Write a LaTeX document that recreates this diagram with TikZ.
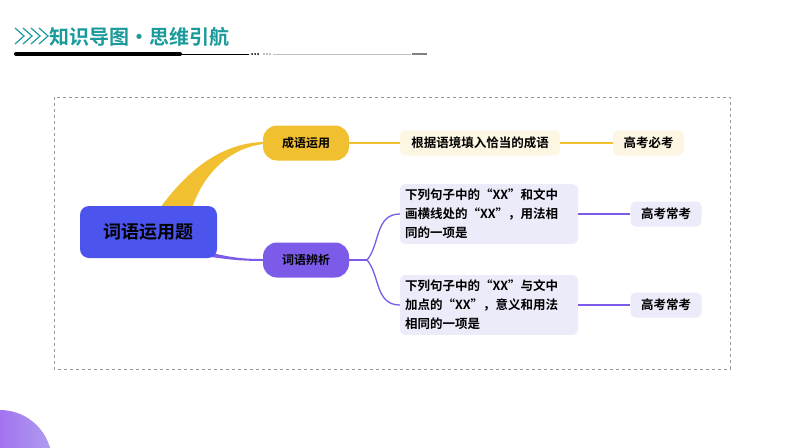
\documentclass[tikz,border=0pt]{standalone}
\usepackage{fontspec}
\setmainfont{Noto Sans CJK SC}[BoldFont={* Bold}]
\definecolor{teal1}{HTML}{1A9A9A}
\definecolor{yel}{HTML}{F0C030}
\definecolor{yelL}{HTML}{FDF6E3}
\definecolor{pur}{HTML}{7B5BE8}
\definecolor{purL}{HTML}{ECEBFA}
\definecolor{blu}{HTML}{4B55EE}
\tikzset{
 pill/.style={rounded corners=14pt,minimum width=86pt,minimum height=35pt,font=\bfseries\fontsize{12}{14}\selectfont},
 leaf/.style={rounded corners=5pt,inner sep=5pt,font=\bfseries\fontsize{12.5}{19}\selectfont,align=left},
 tag/.style={rounded corners=5pt,minimum width=71pt,minimum height=25pt,font=\bfseries\fontsize{12.5}{14}\selectfont},
}
\begin{document}
\begin{tikzpicture}[x=1pt,y=-1pt]
\useasboundingbox (0,0) rectangle (794,447);
\fill[white] (0,0) rectangle (794,447);
\begin{scope}
\clip (0,0) rectangle (794,447);
\shade[left color=pur!80!magenta,right color=pur!60!white] (0,462) circle (52);
\end{scope}
\foreach \i in {0,8,16,24}{
 \draw[teal1,line width=1.2pt] (15+\i,28) -- (24+\i,36) -- (15+\i,44);
}
\node[anchor=west,text=teal1,inner sep=0,font=\bfseries\fontsize{20}{22}\selectfont] (title) at (49,37) {知识导图·思维引航};
\draw[line width=4pt,line cap=round] (16,54) -- (180,54);
\draw[line width=0.8pt] (180,54) -- (249,54);
\fill (252,54) circle (1) (255,54) circle (1) (258,54) circle (1);
\fill[gray] (264,54) circle (0.8) (267,54) circle (0.8) (270,54) circle (0.8);
\draw[gray!50,line width=0.6pt] (273,54) -- (411,54);
\draw[gray,line width=2pt] (412,54) -- (427,54);
\draw[gray!80,dashed,line width=0.6pt] (54,97) rectangle (730,369);
\fill[yel] (160,208) .. controls (195,160) and (230,143) .. (263,142) -- (263,144) .. controls (232,148) and (205,170) .. (192,208) -- cycle;
\fill[pur] (200,250) .. controls (230,258) and (245,259) .. (263,259) -- (263,261) .. controls (245,261) and (230,260) .. (205,256) -- cycle;
\node[fill=blu,rounded corners=9pt,minimum width=137pt,minimum height=52pt,font=\bfseries\fontsize{18}{20}\selectfont] (root) at (148.5,232) {词语运用题};
\node[pill,fill=yel] (a) at (306,143) {成语运用};
\node[pill,fill=pur] (b) at (306,260) {词语辨析};
\node[leaf,fill=yelL,minimum height=25pt,minimum width=160pt,align=center] (a1) at (480,143) {根据语境填入恰当的成语};
\node[tag,fill=yelL] (a2) at (648.5,143) {高考必考};
\node[leaf,fill=purL,text width=168pt] (b1) at (489,214) {下列句子中的“XX”和文中\\画横线处的“XX”，用法相\\同的一项是};
\node[leaf,fill=purL,text width=168pt] (b2) at (489,305) {下列句子中的“XX”与文中\\加点的“XX”，意义和用法\\相同的一项是};
\node[tag,fill=purL] (b1t) at (666,214) {高考常考};
\node[tag,fill=purL] (b2t) at (666,305) {高考常考};
\draw[yel,line width=1.3pt] (a.east) -- (a1.west);
\draw[yel,line width=1.3pt] (a1.east) -- (a2.west);
\coordinate (bf) at (367,260);
\draw[pur,line width=1.3pt] (b.east) -- (bf);
\draw[pur,line width=1.3pt] (bf) .. controls (380,245) and (375,214) .. (b1.west);
\draw[pur,line width=1.3pt] (bf) .. controls (380,275) and (375,305) .. (b2.west);
\draw[pur,line width=1.3pt] (b1.east) -- (b1t.west);
\draw[pur,line width=1.3pt] (b2.east) -- (b2t.west);
\end{tikzpicture}
\end{document}
